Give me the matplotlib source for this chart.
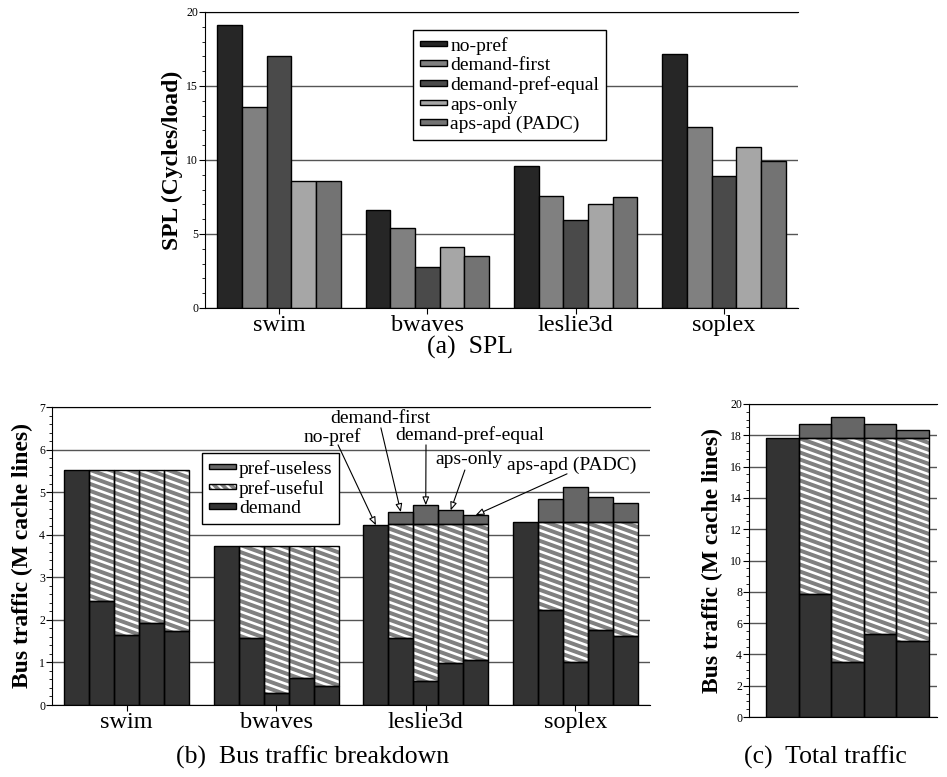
import matplotlib
matplotlib.use('Agg')
import matplotlib.pyplot as plt
from matplotlib.collections import LineCollection
from matplotlib.patches import Patch
from matplotlib.transforms import IdentityTransform
from matplotlib.ticker import MultipleLocator

plt.rcParams['font.family'] = ['Liberation Serif', 'DejaVu Serif']
plt.rcParams['hatch.linewidth'] = 1.5

benchmarks = ['swim', 'bwaves', 'leslie3d', 'soplex']
schemes = ['no-pref', 'demand-first', 'demand-pref-equal', 'aps-only', 'aps-apd (PADC)']

# (a) SPL (cycles/load), one list per scheme, benchmark order
spl_no_pref = [19.1, 6.6, 9.6, 17.15]
spl_demand_first = [13.55, 5.4, 7.55, 12.2]
spl_demand_pref_equal = [17.05, 2.75, 5.95, 8.95]
spl_aps_only = [8.55, 4.1, 7.0, 10.9]
spl_aps_apd = [8.55, 3.5, 7.5, 9.95]
spl = [spl_no_pref, spl_demand_first, spl_demand_pref_equal, spl_aps_only, spl_aps_apd]

# (b) bus traffic breakdown (M cache lines), rows = scheme, cols = benchmark
demand_traffic = [[5.52, 3.73, 4.22, 4.30],
                  [2.44, 1.57, 1.57, 2.23],
                  [1.64, 0.28, 0.56, 1.01],
                  [1.92, 0.63, 0.98, 1.76],
                  [1.74, 0.45, 1.05, 1.62]]
useful_traffic = [[0.0, 0.0, 0.0, 0.0],
                  [3.08, 2.16, 2.69, 2.08],
                  [3.88, 3.45, 3.70, 3.30],
                  [3.60, 3.10, 3.28, 2.55],
                  [3.78, 3.28, 3.21, 2.69]]
useless_traffic = [[0.0, 0.0, 0.0, 0.0],
                   [0.0, 0.0, 0.27, 0.52],
                   [0.0, 0.0, 0.43, 0.81],
                   [0.0, 0.0, 0.31, 0.57],
                   [0.0, 0.0, 0.20, 0.43]]

# (c) total traffic per scheme
total_demand = [17.8, 7.85, 3.5, 5.3, 4.85]
total_useful = [0.0, 10.0, 14.35, 12.55, 13.0]
total_useless = [0.0, 0.85, 1.3, 0.9, 0.5]

spl_colors = ['#262626', '#808080', '#4a4a4a', '#a6a6a6', '#737373']
c_demand = '#333333'
c_useful = '#808080'
c_useless = '#666666'

W, H = 947, 777
fig = plt.figure(figsize=(W / 100, H / 100), dpi=100)


def box(l, r, t, b):
    return [l / W, 1 - b / H, (r - l) / W, (b - t) / H]


def style(ax, major, minor, tickfs=8.5):
    ax.spines['right'].set_visible(False)
    ax.yaxis.set_major_locator(MultipleLocator(major))
    ax.yaxis.set_minor_locator(MultipleLocator(minor))
    ax.yaxis.grid(True, color='#555555', lw=1)
    ax.set_axisbelow(True)
    ax.tick_params(axis='y', which='major', length=4, width=0.8, labelsize=tickfs, pad=1)
    ax.tick_params(axis='y', which='minor', length=2, width=0.6)


def stripes(ax, bars, period=7.0, slope=0.36, lw=1.9):
    # white diagonal stripes in pixel space, clipped to each bar
    for b in bars:
        if b.get_height() <= 0:
            continue
        (x0, y0), (x1, y1) = ax.transData.transform(
            [(b.get_x(), b.get_y()), (b.get_x() + b.get_width(), b.get_y() + b.get_height())])
        cmin = y0 + slope * x0
        cmax = y1 + slope * x1
        n0 = int(cmin // period) - 1
        n1 = int(cmax // period) + 2
        segs = []
        for n in range(n0, n1):
            c = n * period
            segs.append([(x0 - 3, c - slope * (x0 - 3)), (x1 + 3, c - slope * (x1 + 3))])
        lc = LineCollection(segs, colors='white', linewidths=lw,
                            transform=IdentityTransform(), zorder=2.5)
        ax.add_collection(lc, autolim=False)
        lc.set_clip_path(b)


def stack(ax, x, demand, useful, useless):
    bottoms = [0] * len(x)
    segs = [(demand, c_demand, False), (useful, c_useful, True), (useless, c_useless, False)]
    for vals, col, striped in segs:
        xs = [xi for xi, v in zip(x, vals) if v > 0]
        hs = [v for v in vals if v > 0]
        bs = [bo for bo, v in zip(bottoms, vals) if v > 0]
        bars = ax.bar(xs, hs, bottom=bs, width=1, color=col, edgecolor='none', zorder=2)
        if striped:
            stripes(ax, bars)
        ax.bar(xs, hs, bottom=bs, width=1, fill=False, edgecolor='black', lw=1, zorder=3)
        bottoms = [bo + v for bo, v in zip(bottoms, vals)]


group_x = [g * 6 + 2 for g in range(len(benchmarks))]

# ---------------- (a) SPL ----------------
ax1 = fig.add_axes(box(205, 798, 12, 308))
for j, name in enumerate(schemes):
    xs = [g * 6 + j for g in range(len(benchmarks))]
    ax1.bar(xs, spl[j], width=1, color=spl_colors[j], edgecolor='black', lw=1,
            zorder=2, label=name)
ax1.set_xlim(-1, 23)
ax1.set_ylim(0, 20)
style(ax1, 5, 1)
ax1.set_xticks(group_x)
ax1.set_xticklabels(benchmarks, fontsize=17.5)
ax1.tick_params(axis='x', length=4, pad=1)
ax1.set_ylabel('SPL (Cycles/load)', fontsize=17, fontweight='bold')
ax1.yaxis.set_label_coords(-0.037, 0.5)
leg = ax1.legend(loc='upper left', bbox_to_anchor=(0.351, 0.939), borderaxespad=0,
                 fontsize=14, handlelength=1.4, handleheight=0.05, handletextpad=0.15,
                 labelspacing=0.12, fancybox=False, framealpha=1, borderpad=0.35)
leg.get_frame().set_edgecolor('black')
leg.get_frame().set_linewidth(1)
fig.text(470 / W, 1 - 347 / H, '(a)  SPL', fontsize=18.5, ha='center', va='center')

# ---------------- (b) Bus traffic breakdown ----------------
ax2 = fig.add_axes(box(52, 650, 407, 705))
ax2.set_xlim(-1, 23)
ax2.set_ylim(0, 7)
for j in range(len(schemes)):
    xs = [g * 6 + j for g in range(len(benchmarks))]
    stack(ax2, xs, demand_traffic[j], useful_traffic[j], useless_traffic[j])
style(ax2, 1, 0.2)
ax2.set_xticks(group_x)
ax2.set_xticklabels(benchmarks, fontsize=17.5)
ax2.tick_params(axis='x', length=4, pad=1)
ax2.set_ylabel('Bus traffic (M cache lines)', fontsize=17, fontweight='bold')
ax2.yaxis.set_label_coords(-0.032, 0.5)

h_useless = Patch(facecolor=c_useless, edgecolor='black', lw=1)
h_useful = (Patch(facecolor=c_useful, edgecolor='white', hatch='\\\\\\\\', lw=0),
            Patch(fill=False, edgecolor='black', lw=1))
h_demand = Patch(facecolor=c_demand, edgecolor='black', lw=1)
leg2 = ax2.legend([h_useless, h_useful, h_demand], ['pref-useless', 'pref-useful', 'demand'],
                  loc='upper left', bbox_to_anchor=(0.251, 0.846), borderaxespad=0,
                  fontsize=14, handlelength=1.4, handleheight=0.05, handletextpad=0.15,
                  labelspacing=0.12, fancybox=False, framealpha=1, borderpad=0.35)
leg2.get_frame().set_edgecolor('black')
leg2.get_frame().set_linewidth(1)

# labels with arrows on the leslie3d group
g = benchmarks.index('leslie3d')
label_pos = [(10.26, 6.30), (12.18, 6.72), (15.76, 6.34), (15.72, 5.76), (19.85, 5.64)]
arrow_from = [(10.48, 6.11), (12.20, 6.51), (14.01, 6.11), (15.57, 5.52), (19.67, 5.43)]
for j, name in enumerate(schemes):
    top = demand_traffic[j][g] + useful_traffic[j][g] + useless_traffic[j][g]
    ax2.text(label_pos[j][0], label_pos[j][1], name, fontsize=14, ha='center', va='center', zorder=5)
    ax2.annotate('', xy=(g * 6 + j, top), xytext=arrow_from[j], zorder=5,
                 arrowprops=dict(arrowstyle='-|>,head_length=0.5,head_width=0.2',
                                 fc='white', ec='black', lw=0.8, shrinkA=0, shrinkB=0))
fig.text(313 / W, 1 - 757 / H, '(b)  Bus traffic breakdown', fontsize=18.5, ha='center', va='center')

# ---------------- (c) Total traffic ----------------
ax3 = fig.add_axes(box(749, 937, 404, 717))
ax3.set_xlim(-1.02, 4.75)
ax3.set_ylim(0, 20)
stack(ax3, list(range(len(schemes))), total_demand, total_useful, total_useless)
style(ax3, 2, 0.5)
ax3.set_xticks([])
ax3.set_ylabel('Bus traffic (M cache lines)', fontsize=17, fontweight='bold')
ax3.yaxis.set_label_coords(-0.138, 0.5)
fig.text(825 / W, 1 - 757 / H, '(c)  Total traffic', fontsize=18.5, ha='center', va='center')

fig.savefig('out.png', dpi=100)
